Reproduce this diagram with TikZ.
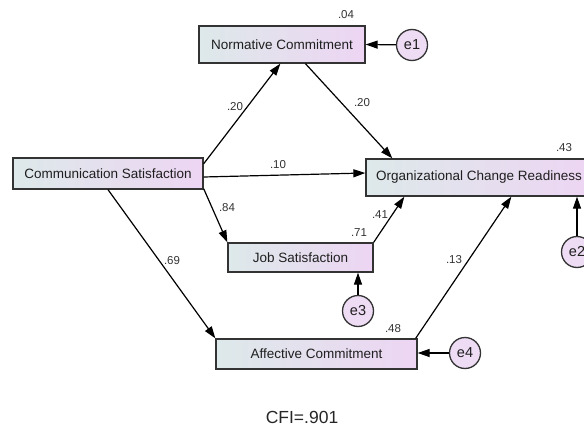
\documentclass[tikz,border=0pt]{standalone}
\usepackage{fontspec}
\setmainfont{Liberation Sans}
\usetikzlibrary{arrows.meta,calc}
\definecolor{boxL}{HTML}{DDE9EA}
\definecolor{boxR}{HTML}{EDD5F3}
\definecolor{errfill}{HTML}{EDDCF3}
\definecolor{edgegray}{HTML}{333333}
\begin{document}
\begin{tikzpicture}[x=1pt,y=-1pt,
  var/.style={draw=edgegray,line width=1.3pt,left color=boxL,right color=boxR,
    inner sep=0pt,font=\fontsize{13.5}{16}\selectfont,text=black!88},
  err/.style={circle,draw=edgegray,line width=1.3pt,fill=errfill,minimum size=31pt,
    inner sep=0pt,font=\fontsize{14.5}{16}\selectfont,text=black!88},
  path/.style={draw=black,line width=1.2pt,-{Triangle[length=12pt,width=8pt]}},
  coef/.style={font=\fontsize{11.5}{13}\selectfont,text=black!80,inner sep=0pt}]
\useasboundingbox (0,0) rectangle (584,428);
\clip (0,0) rectangle (584,428);
% variables
\node[var,minimum width=166pt,minimum height=37pt] (nc) at (282,44.5) {Normative Commitment};
\node[var,minimum width=190pt,minimum height=31pt] (cs) at (108,173.5) {Communication Satisfaction};
\node[var,minimum width=226pt,minimum height=37pt] (ocr) at (479,177.5) {Organizational Change Readiness};
\node[var,minimum width=145pt,minimum height=29pt] (js) at (300.5,257.5) {Job Satisfaction};
\node[var,minimum width=201pt,minimum height=30pt] (ac) at (316.5,354) {Affective Commitment};
% errors
\node[err] (e1) at (412,45) {e1};
\node[err] (e2) at (577,252) {e2};
\node[err] (e3) at (358,311) {e3};
\node[err] (e4) at (465,353) {e4};
% paths
\draw[path] ($(cs.north east)!0.2!(cs.south east)$) -- ($(nc.south west)!0.49!(nc.south east)$);
\draw[path] ($(nc.south west)!0.64!(nc.south east)$) -- ($(ocr.north west)+(27,0)$);
\draw[path] ($(cs.east)+(0,3.5)$) -- ($(ocr.west)+(0,-4.5)$);
\draw[path] ($(cs.south east)+(0,-1)$) -- (js.north west);
\draw[path] (cs.south) -- (ac.north west);
\draw[path] (js.north east) -- ($(ocr.south west)+(39,0)$);
\draw[path] ($(ac.north east)+(-2,0)$) -- ($(ocr.south west)+(146,0)$);
\draw[path] (e1) -- (nc.east);
\draw[path] (e2) -- (e2 |- ocr.south);
\draw[path] (e3) -- (e3 |- js.south);
\draw[path] (e4) -- (e4 -| ac.east);
% coefficients
\node[coef] (l04) at (346,15) {.04};
\node[coef] (l43) at (564,148) {.43};
\node[coef] (l71) at (359,233) {.71};
\node[coef] (l48) at (393,329) {.48};
\node[coef] (lcn) at (235,107) {.20};
\node[coef] (lno) at (362,103) {.20};
\node[coef] (lco) at (278,165) {.10};
\node[coef] (lcj) at (227,208) {.84};
\node[coef] (lca) at (172,261) {.69};
\node[coef] (ljo) at (380,215) {.41};
\node[coef] (lao) at (454,260) {.13};
\node[font=\fontsize{17.5}{20}\selectfont,text=black!85] (cfi) at (302,417) {CFI=.901};
\end{tikzpicture}
\end{document}
